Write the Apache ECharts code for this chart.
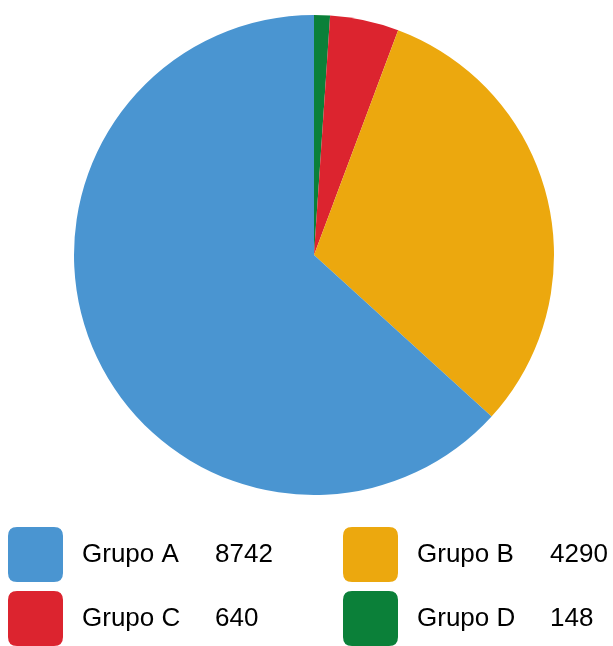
<!DOCTYPE html>
<html><head><meta charset="utf-8">
<script src="https://cdn.jsdelivr.net/npm/echarts@6/dist/echarts.min.js"></script>
<style>html,body{margin:0;padding:0;background:#fff}#c{width:613px;height:646px}</style>
</head><body><div id="c"></div>
<script>
const categories = ['Grupo A', 'Grupo B', 'Grupo C', 'Grupo D'];
const values = [8742, 4290, 640, 148];
const colors = ['#4A95D1', '#ECA80E', '#DC242F', '#0B8039'];
// slice drawing order clockwise from top
const sliceOrder = ['Grupo D', 'Grupo C', 'Grupo B', 'Grupo A'];

const chart = echarts.init(document.getElementById('c'), null, {renderer: 'canvas'});
const colorOf = n => colors[categories.indexOf(n)];
const valueOf = n => values[categories.indexOf(n)];
const rr = 'path://M9,0L46,0Q55,0 55,9L55,46Q55,55 46,55L9,55Q0,55 0,46L0,9Q0,0 9,0Z';
const legendPos = [
  {name: 'Grupo A', left: 8, top: 527},
  {name: 'Grupo B', left: 343, top: 527},
  {name: 'Grupo C', left: 8, top: 591},
  {name: 'Grupo D', left: 343, top: 591}
];
const legends = legendPos.map(p => ({
  data: [p.name], left: p.left, top: p.top, padding: 0,
  itemWidth: 55, itemHeight: 55, icon: rr, selectedMode: false,
  formatter: n => '{n|' + n + '}{v|' + valueOf(n) + '}',
  textStyle: {
    color: '#000', fontFamily: 'Liberation Sans', fontSize: 26,
    rich: {
      n: {width: 133, padding: [0, 0, 0, 14], fontFamily: 'Liberation Sans', fontSize: 26, color: '#000'},
      v: {fontFamily: 'Liberation Sans', fontSize: 26, color: '#000'}
    }
  }
}));
chart.setOption({
  animation: false,
  legend: legends,
  series: [{
    type: 'pie', center: [314, 255], radius: 240, startAngle: 90, clockwise: true,
    label: {show: false}, labelLine: {show: false}, silent: true,
    itemStyle: {borderWidth: 0},
    data: sliceOrder.map(n => ({name: n, value: valueOf(n), itemStyle: {color: colorOf(n)}}))
  }]
});
</script></body></html>
